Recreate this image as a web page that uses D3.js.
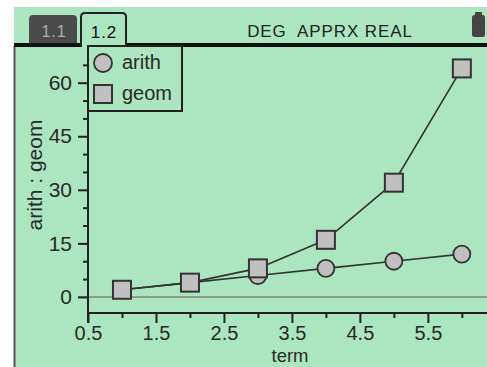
<!DOCTYPE html>
<html><head><meta charset="utf-8">
<script src="https://cdn.jsdelivr.net/npm/d3@7"></script>
<style>
html,body{margin:0;padding:0;background:#fff;}
svg{display:block;font-family:"Liberation Sans",Arial,sans-serif;}
</style></head>
<body>
<script>
const terms = [1, 2, 3, 4, 5, 6];
const arith = [2, 4, 6, 8, 10, 12];
const geom = [2, 4, 8, 16, 32, 64];
const xMajorTicks = [0.5, 1.5, 2.5, 3.5, 4.5, 5.5];
const xMinorTicks = [1, 2, 3, 4, 5, 6];
const yMajorTicks = [0, 15, 30, 45, 60];
const yMinorTicks = [5, 10, 20, 25, 35, 40, 50, 55, 65];
const seriesNames = ["arith", "geom"];
const xTitle = "term";
const yTitle = "arith : geom";
const tabs = ["1.1", "1.2"];
const statusText = "DEG  APPRX REAL";

const W = 487, H = 367;
const green = "#abe6c0";
const svg = d3.select("body").append("svg").attr("width", W).attr("height", H);

// screen background
svg.append("rect").attr("x", 14).attr("y", 7).attr("width", W - 14).attr("height", H - 7).attr("fill", green);
svg.append("line").attr("x1", 14.5).attr("x2", 14.5).attr("y1", 46).attr("y2", H).attr("stroke", "#555").attr("stroke-width", 2);

// tabs
svg.append("path").attr("d", "M29,44 L29,19 Q29,15 33,15 L73,15 Q77,15 77,19 L77,44 Z").attr("fill", "#4b4b4b");
svg.append("text").attr("x", 54).attr("y", 37).attr("text-anchor", "middle").attr("font-size", 16).attr("letter-spacing", 1).attr("fill", "#b0b0b0").text(tabs[0]);
// header line
svg.append("line").attr("x1", 14).attr("x2", 81).attr("y1", 45).attr("y2", 45).attr("stroke", "#111").attr("stroke-width", 4);
svg.append("line").attr("x1", 126).attr("x2", W).attr("y1", 45).attr("y2", 45).attr("stroke", "#111").attr("stroke-width", 4);
svg.append("path").attr("d", "M81,47 L81,17 Q81,13 85,13 L122,13 Q126,13 126,17 L126,47").attr("fill", green).attr("stroke", "#222").attr("stroke-width", 2);
svg.append("text").attr("x", 104).attr("y", 38).attr("text-anchor", "middle").attr("font-size", 17).attr("letter-spacing", 1).attr("fill", "#111").text(tabs[1]);
svg.append("text").attr("x", 330).attr("y", 37).attr("text-anchor", "middle").attr("font-size", 17).attr("letter-spacing", 0.9).attr("fill", "#222").style("white-space", "pre").attr("xml:space", "preserve").text(statusText);
// battery
svg.append("rect").attr("x", 475).attr("y", 12).attr("width", 7).attr("height", 4).attr("rx", 1).attr("fill", "#444");
svg.append("rect").attr("x", 472).attr("y", 15).attr("width", 13).attr("height", 22).attr("rx", 2.5).attr("fill", "#444");

// scales
const x = d3.scaleLinear().domain([0.5, 6.37]).range([88, 487]);
const y = d3.scaleLinear().domain([-4.5, 70]).range([313, 47]);

// zero line
svg.append("line").attr("x1", 78).attr("x2", W).attr("y1", y(0)).attr("y2", y(0)).attr("stroke", "#8c9a90").attr("stroke-width", 2);

function styleAxis(g, fs) {
  g.select(".domain").attr("stroke", "#222").attr("stroke-width", 2);
  g.selectAll(".tick line").attr("stroke", "#222").attr("stroke-width", 2);
  g.selectAll(".tick text").attr("fill", "#2a2a2a").attr("font-size", fs).attr("font-family", "Liberation Sans, Arial, sans-serif");
}

// y axis
const yMinor = svg.append("g").attr("transform", "translate(88,0)")
  .call(d3.axisLeft(y).tickValues(yMinorTicks).tickSize(5).tickFormat("").tickSizeOuter(0));
styleAxis(yMinor, 21);
yMinor.select(".domain").remove();
const yMajor = svg.append("g").attr("transform", "translate(88,0)")
  .call(d3.axisLeft(y).tickValues(yMajorTicks).tickSize(10).tickPadding(6).tickSizeOuter(0).tickFormat(d3.format("d")));
styleAxis(yMajor, 21);
yMajor.select(".domain").attr("d", `M0,${46}V${323}`);

// x axis
const xMinor = svg.append("g").attr("transform", "translate(0,313)")
  .call(d3.axisBottom(x).tickValues(xMinorTicks).tickSize(5).tickFormat("").tickSizeOuter(0));
styleAxis(xMinor, 20);
xMinor.select(".domain").remove();
const xMajor = svg.append("g").attr("transform", "translate(0,313)")
  .call(d3.axisBottom(x).tickValues(xMajorTicks).tickSize(10).tickPadding(3).tickSizeOuter(0).tickFormat(d3.format(".1f")));
styleAxis(xMajor, 20);
xMajor.select(".domain").attr("d", `M88,0H${W}`);

// titles
svg.append("text").attr("x", 290).attr("y", 362).attr("text-anchor", "middle").attr("font-size", 18.5).attr("fill", "#2a2a2a").text(xTitle);
svg.append("text").attr("transform", "translate(42,175) rotate(-90)").attr("text-anchor", "middle").attr("font-size", 21).attr("fill", "#2a2a2a").text(yTitle);

// lines
const line = d3.line().x(d => x(d[0])).y(d => y(d[1]));
svg.append("path").datum(terms.map((t, i) => [t, geom[i]])).attr("d", line).attr("fill", "none").attr("stroke", "#333").attr("stroke-width", 1.6);
svg.append("path").datum(terms.map((t, i) => [t, arith[i]])).attr("d", line).attr("fill", "none").attr("stroke", "#333").attr("stroke-width", 1.6);

// markers
svg.selectAll("circle.a").data(terms).enter().append("circle").attr("class", "a")
  .attr("cx", (d) => x(d)).attr("cy", (d, i) => y(arith[i])).attr("r", 8.5)
  .attr("fill", "#c0c0c0").attr("stroke", "#333").attr("stroke-width", 1.8);
const sq = 18;
svg.selectAll("rect.g").data(terms).enter().append("rect").attr("class", "g")
  .attr("x", (d) => x(d) - sq / 2).attr("y", (d, i) => y(geom[i]) - sq / 2).attr("width", sq).attr("height", sq)
  .attr("fill", "#c0c0c0").attr("stroke", "#333").attr("stroke-width", 2);

// legend
svg.append("rect").attr("x", 88).attr("y", 46).attr("width", 94).attr("height", 65).attr("fill", green).attr("stroke", "#222").attr("stroke-width", 2);
svg.append("circle").attr("cx", 103).attr("cy", 63).attr("r", 9).attr("fill", "#c0c0c0").attr("stroke", "#333").attr("stroke-width", 1.8);
svg.append("rect").attr("x", 94).attr("y", 85).attr("width", 18).attr("height", 18).attr("fill", "#c0c0c0").attr("stroke", "#333").attr("stroke-width", 2);
svg.append("text").attr("x", 122).attr("y", 69).attr("font-size", 20).attr("fill", "#2a2a2a").text(seriesNames[0]);
svg.append("text").attr("x", 122).attr("y", 100).attr("font-size", 20).attr("fill", "#2a2a2a").text(seriesNames[1]);
</script>
</body></html>
